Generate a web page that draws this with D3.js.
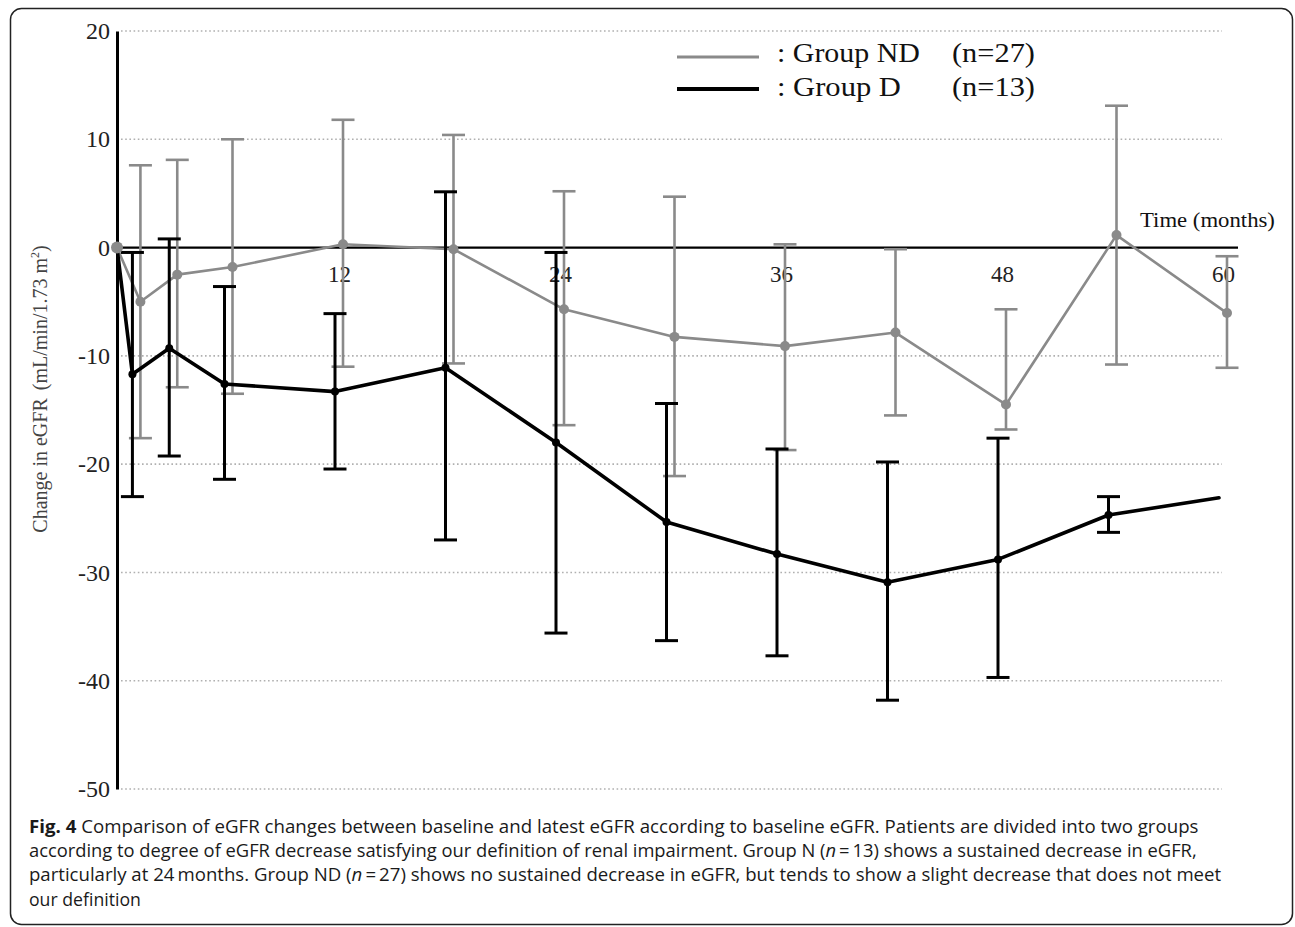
<!DOCTYPE html>
<html><head><meta charset="utf-8">
<script src="https://cdn.jsdelivr.net/npm/d3@7"></script>
<style>body{margin:0;background:#fff;} svg{display:block}</style>
</head><body>
<svg id="chart" width="1295" height="927"></svg>
<script>
// ---- data ----
const months  = [0, 1, 3, 6, 12, 18, 24, 30, 36, 42, 48, 54, 60];
const ndMean  = [0, -5.0, -2.5, -1.8, 0.3, -0.15, -5.7, -8.25, -9.1, -7.85, -14.5, 1.15, -6.05];
const ndUpper = [null, 7.6, 8.1, 10.0, 11.8, 10.4, 5.2, 4.7, 0.3, -0.15, -5.7, 13.1, -0.8];
const ndLower = [null, -17.6, -12.9, -13.5, -11.0, -10.7, -16.4, -21.1, -18.7, -15.5, -16.8, -10.8, -11.1];
const dMean   = [0, -11.7, -9.3, -12.6, -13.3, -11.1, -18.0, -25.35, -28.3, -30.9, -28.8, -24.7, -23.1];
const dUpper  = [null, -0.45, 0.8, -3.6, -6.1, 5.15, -0.45, -14.4, -18.6, -19.8, -17.6, -23.0, null];
const dLower  = [null, -23.0, -19.25, -21.4, -20.45, -27.0, -35.6, -36.3, -37.7, -41.8, -39.7, -26.3, null];
const yTicks  = [20, 10, 0, -10, -20, -30, -40, -50];
const xTicks  = [12, 24, 36, 48, 60];
const legendNames = [": Group ND", ": Group D"];
const legendN = ["(n=27)", "(n=13)"];
const yTitle = "Change in eGFR";
const yUnit = "(mL/min/1.73 m";
const xTitle = "Time (months)";
const captionLines = [
  [{t:"Fig. 4", b:true}, {t:" Comparison of eGFR changes between baseline and latest eGFR according to baseline eGFR. Patients are divided into two groups"}],
  [{t:"according to degree of eGFR decrease satisfying our definition of renal impairment. Group N ("}, {t:"n", i:true}, {t:"\u2009=\u200913) shows a sustained decrease in eGFR,"}],
  [{t:"particularly at 24\u2009months. Group ND ("}, {t:"n", i:true}, {t:"\u2009=\u200927) shows no sustained decrease in eGFR, but tends to show a slight decrease that does not meet"}],
  [{t:"our definition"}]
];

// ---- layout ----
const svg = d3.select("#chart");
const serif = "'Liberation Serif','Times New Roman',serif";
const GREY = "#8a8a8a";
const x = d3.scaleLinear().domain([0, 60]).range([118, 1223]);
const y = d3.scaleLinear().domain([-50, 20]).range([789, 31]);
const dodge = 4;

function fitWidth(sel, w){
  sel.each(function(){
    const n = this.getComputedTextLength();
    const xx = +this.getAttribute("x") || 0;
    const s = w / n;
    d3.select(this).attr("transform", `translate(${xx},0) scale(${s},1) translate(${-xx},0)`);
  });
}

// frame
svg.append("rect").attr("x", 10.5).attr("y", 8.5).attr("width", 1282).attr("height", 916)
  .attr("rx", 11).attr("fill", "none").attr("stroke", "#222").attr("stroke-width", 1.5);

// gridlines
svg.append("g").selectAll("line").data(yTicks.filter(d => d !== 0)).join("line")
  .attr("x1", 121).attr("x2", 1222)
  .attr("y1", d => y(d)).attr("y2", d => y(d))
  .attr("stroke", "#b0b0b0").attr("stroke-width", 1.6).attr("stroke-dasharray", "1.6,2.6");

// y axis
const yAxis = svg.append("g").attr("transform", `translate(117,0)`)
  .call(d3.axisLeft(y).tickValues(yTicks).tickSize(0).tickPadding(7).tickFormat(d => String(d)));
yAxis.select(".domain").attr("stroke", "#000").attr("stroke-width", 3);
yAxis.selectAll("text").attr("font-family", serif).attr("font-size", 24).attr("fill", "#222");

// x axis (zero line + labels)
const xAxis = svg.append("g").attr("transform", `translate(0,${y(0)})`)
  .call(d3.axisBottom(x).tickValues(xTicks).tickSize(0).tickPadding(18).tickFormat(d => String(d)));
xAxis.select(".domain").remove();
xAxis.selectAll("text").attr("font-family", serif).attr("font-size", 23).attr("fill", "#222");
svg.append("line").attr("x1", 117).attr("x2", 1238).attr("y1", y(0)).attr("y2", y(0))
  .attr("stroke", "#000").attr("stroke-width", 2.2);

svg.append("text").attr("x", 1140).attr("y", 227).attr("font-family", serif)
  .attr("font-size", 21).attr("fill", "#111").text(xTitle).call(fitWidth, 135);

// y title
const yt = svg.append("text").attr("transform", "translate(47,389) rotate(-90)")
  .attr("text-anchor", "middle").attr("font-family", serif).attr("font-size", 20).attr("fill", "#444");
yt.append("tspan").text(yTitle);
yt.append("tspan").attr("dx", 8).text(yUnit);
yt.append("tspan").attr("font-size", 12).attr("dy", -8).text("2");
yt.append("tspan").attr("dy", 8).text(")");

// series drawing
function series(mean, upper, lower, off, color, lw, ew, r, markerIdx){
  const pts = months.map((m, i) => ({m, i, v: mean[i], u: upper[i], l: lower[i], px: x(m) + (m === 0 ? -1 : off)}));
  const g = svg.append("g");
  const eb = pts.filter(p => p.u !== null);
  g.selectAll(".ev").data(eb).join("line")
    .attr("x1", p => p.px).attr("x2", p => p.px).attr("y1", p => y(p.u)).attr("y2", p => y(p.l))
    .attr("stroke", color).attr("stroke-width", ew);
  g.selectAll(".cu").data(eb).join("line")
    .attr("x1", p => p.px - 11.5).attr("x2", p => p.px + 11.5).attr("y1", p => y(p.u)).attr("y2", p => y(p.u))
    .attr("stroke", color).attr("stroke-width", ew);
  g.selectAll(".cl").data(eb).join("line")
    .attr("x1", p => p.px - 11.5).attr("x2", p => p.px + 11.5).attr("y1", p => y(p.l)).attr("y2", p => y(p.l))
    .attr("stroke", color).attr("stroke-width", ew);
  g.append("path").datum(pts)
    .attr("d", d3.line().x(p => p.px).y(p => y(p.v)))
    .attr("fill", "none").attr("stroke", color).attr("stroke-width", lw)
    .attr("stroke-linejoin", "round").attr("stroke-linecap", "round");
  g.selectAll("circle").data(pts.filter(markerIdx)).join("circle")
    .attr("cx", p => p.px).attr("cy", p => y(p.v)).attr("r", r).attr("fill", color);
  return g;
}
series(ndMean, ndUpper, ndLower, dodge, GREY, 2.6, 2.6, 5, p => true);
series(dMean, dUpper, dLower, -dodge, "#000", 3.6, 3, 4, p => p.m > 0 && p.u !== null);
// baseline marker on top
svg.append("circle").attr("cx", x(0) - 1).attr("cy", y(0)).attr("r", 6).attr("fill", GREY);

// legend
const lg = svg.append("g");
[[GREY, 3.2, 57, 62], ["#000", 4.2, 89, 96.5]].forEach((s, i) => {
  lg.append("line").attr("x1", 677).attr("x2", 759).attr("y1", s[2]).attr("y2", s[2])
    .attr("stroke", s[0]).attr("stroke-width", s[1]);
  lg.append("text").attr("x", 777).attr("y", s[3]).attr("font-family", serif).attr("font-size", 28)
    .attr("fill", "#111").text(legendNames[i]).call(fitWidth, i === 0 ? 143 : 124);
  lg.append("text").attr("x", 952).attr("y", s[3]).attr("font-family", serif).attr("font-size", 28)
    .attr("fill", "#111").text(legendN[i]).call(fitWidth, 83);
});

// caption
const capFont = "'Open Sans','Noto Sans',sans-serif";
const capBase = [833, 857, 881.5, 906];
const capWidths = [1170, 1169, 1193, 112];
captionLines.forEach((line, li) => {
  const t = svg.append("text").attr("x", 29).attr("y", capBase[li])
    .attr("font-family", capFont).attr("font-size", 17.5).attr("fill", "#1a1a1a");
  line.forEach(s => {
    t.append("tspan").attr("font-weight", s.b ? "bold" : null).attr("font-style", s.i ? "italic" : null).text(s.t);
  });
  t.call(fitWidth, capWidths[li]);
});
</script>
</body></html>
